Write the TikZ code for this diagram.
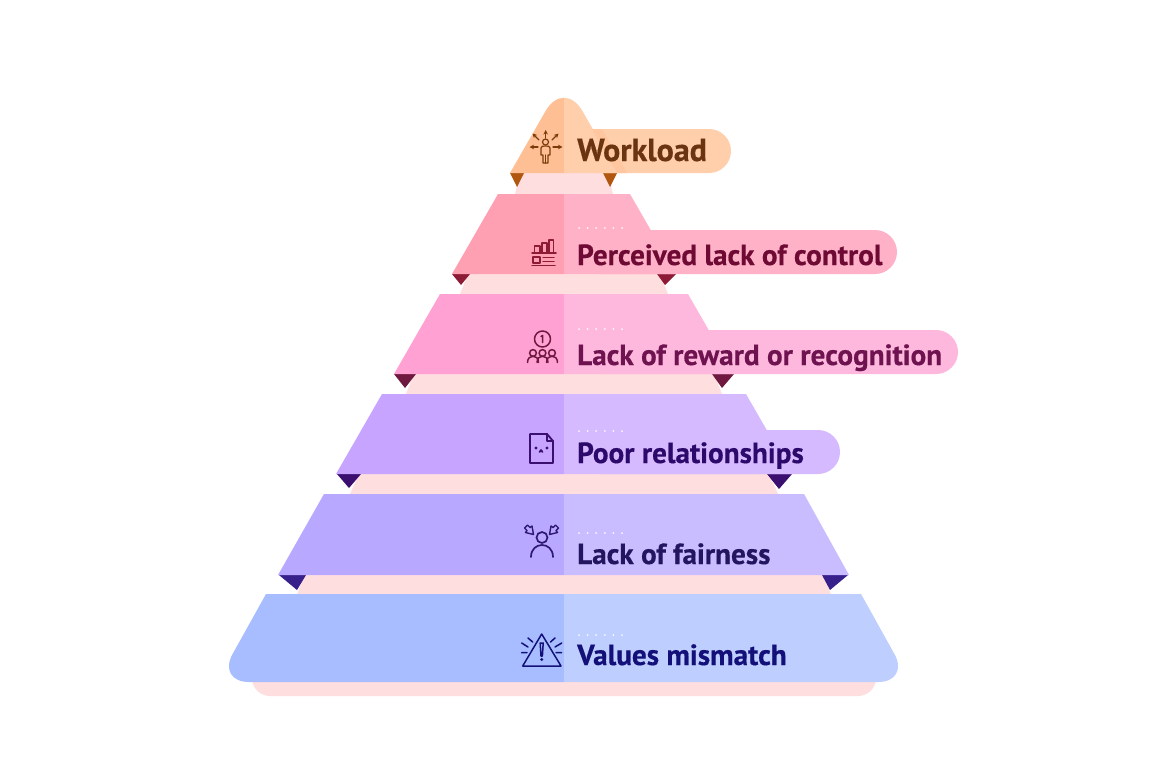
\documentclass[tikz,border=0pt]{standalone}
\usepackage{fontspec}
\usetikzlibrary{arrows.meta}
\setmainfont[BoldFeatures={FakeBold=0.4}]{PT Sans}
\definecolor{strip}{HTML}{FFDEDF}
\definecolor{foldA}{HTML}{B0560F}\definecolor{foldB}{HTML}{8E1B36}\definecolor{foldC}{HTML}{6F1840}
\definecolor{foldD}{HTML}{3A0F6F}\definecolor{foldE}{HTML}{38208C}
\definecolor{lA}{HTML}{FFBF95}\definecolor{rA}{HTML}{FFCEAB}
\definecolor{lB}{HTML}{FFA0B2}\definecolor{rB}{HTML}{FFB1C7}
\definecolor{lC}{HTML}{FFA1D2}\definecolor{rC}{HTML}{FFB8DD}
\definecolor{lD}{HTML}{C7A4FF}\definecolor{rD}{HTML}{D5BAFF}
\definecolor{lE}{HTML}{B8A8FF}\definecolor{rE}{HTML}{C9BDFF}
\definecolor{lF}{HTML}{A8BDFF}\definecolor{rF}{HTML}{BDCEFF}
\definecolor{tA}{HTML}{6B3410}\definecolor{tB}{HTML}{6E0A33}\definecolor{tC}{HTML}{6E1350}
\definecolor{tD}{HTML}{2C0A6B}\definecolor{tE}{HTML}{231560}\definecolor{tF}{HTML}{14107A}
\tikzset{
  label text/.style={anchor=base west,inner sep=0pt,font=\fontsize{29.2}{32}\selectfont\bfseries},
  icon/.style={line width=1.5pt,line cap=round,line join=round,fill=none},
}
% six small dots above a label
\newcommand{\dotrow}[1]{\foreach \i in {0,...,5}{\fill[white,opacity=.9] ({579+8.6*\i},#1) circle (1);}}
\begin{document}
\begin{tikzpicture}[x=1pt,y=-1pt]
\useasboundingbox (0,0) rectangle (1170,780);
\fill[white] (0,0) rectangle (1170,780);

% shaded bands between tiers
\fill[strip] (520,173) -- (608,173) -- (613,194) -- (515,194) -- cycle;
\fill[strip] (468,274) -- (660,274) -- (668,294) -- (460,294) -- cycle;
\fill[strip] (414,374) -- (714,374) -- (722,394) -- (406,394) -- cycle;
\fill[strip] (359,474) -- (769,474) -- (778,494) -- (350,494) -- cycle;
\fill[strip] (304,575) -- (824,575) -- (831,595) -- (297,595) -- cycle;
\fill[strip,rounded corners=18] (252,660) -- (252,696) -- (876,696) -- (876,660) -- cycle;

% folded corners
\fill[foldA] (510,173) -- (524,173) -- (517,187) -- cycle;
\fill[foldA] (603,173) -- (617,173) -- (610,187) -- cycle;
\fill[foldB] (452,274) -- (470,274) -- (461,285) -- cycle;
\fill[foldB] (657,274) -- (676,274) -- (665,285) -- cycle;
\fill[foldC] (394,374) -- (416,374) -- (405,388) -- cycle;
\fill[foldC] (712,374) -- (734,374) -- (722,388) -- cycle;
\fill[foldD] (337,474) -- (361,474) -- (349,488) -- cycle;
\fill[foldD] (767,474) -- (792,474) -- (779,489) -- cycle;
\fill[foldE] (279,575) -- (306,575) -- (297,590) -- cycle;
\fill[foldE] (822,575) -- (848,575) -- (830,590) -- cycle;

% tier 1
\fill[rA] (600,129) -- (709,129) arc[start angle=-90,end angle=90,radius=22] -- (600,173) -- cycle;
\begin{scope}
  \clip (0,0) rectangle (564,780);
  \fill[lA] (510,173) [rounded corners=37] -- (564,79) [sharp corners] -- (618,173) -- cycle;
\end{scope}
\begin{scope}
  \clip (564,0) rectangle (1170,780);
  \fill[rA] (510,173) [rounded corners=37] -- (564,79) [sharp corners] -- (618,173) -- cycle;
\end{scope}
\fill[lA!55!rA] (592,129) -- (602,129) -- (627,173) -- (617,173) -- cycle;

% tier 2
\fill[lB] (564,194) -- (498,194) -- (452,274) -- (564,274) -- cycle;
\fill[rB] (564,194) -- (630,194) -- (676,274) -- (564,274) -- cycle;
\fill[rB] (600,230) -- (875,230) arc[start angle=-90,end angle=90,radius=22] -- (600,274) -- cycle;

% tier 3
\fill[lC] (564,294) -- (440,294) -- (394,374) -- (564,374) -- cycle;
\fill[rC] (564,294) -- (688,294) -- (734,374) -- (564,374) -- cycle;
\fill[rC] (600,330) -- (936,330) arc[start angle=-90,end angle=90,radius=22] -- (600,374) -- cycle;

% tier 4
\fill[lD] (564,394) -- (382,394) -- (336,474) -- (564,474) -- cycle;
\fill[rD] (564,394) -- (746,394) -- (792,474) -- (564,474) -- cycle;
\fill[rD] (600,430) -- (818,430) arc[start angle=-90,end angle=90,radius=22] -- (600,474) -- cycle;

% tier 5
\fill[lE] (564,494) -- (324,494) -- (278,575) -- (564,575) -- cycle;
\fill[rE] (564,494) -- (804,494) -- (849,575) -- (564,575) -- cycle;

% tier 6
\begin{scope}
  \clip (0,0) rectangle (564,780);
  \fill[lF] (600,594) -- (266,594) [rounded corners=32] -- (217,682) [sharp corners] -- (600,682) -- cycle;
\end{scope}
\begin{scope}
  \clip (564,0) rectangle (1170,780);
  \fill[rF] (500,594) -- (861,594) [rounded corners=32] -- (910,682) [sharp corners] -- (500,682) -- cycle;
\end{scope}

% dotted rules over the labels
\dotrow{228}\dotrow{329}\dotrow{431}\dotrow{533}\dotrow{635}

% labels
\node[label text,text=tA,font=\fontsize{32}{34}\selectfont\bfseries] (workload) at (577,161) {Workload};
\node[label text,text=tB] (control) at (577,265) {Perceived lack of control};
\node[label text,text=tC] (reward) at (577,365) {Lack of reward or recognition};
\node[label text,text=tD] (relations) at (577,463) {Poor relationships};
\node[label text,text=tE] (fairness) at (577,564) {Lack of fairness};
\node[label text,text=tF] (values) at (577,665) {Values mismatch};

% icon: person with arrows
\begin{scope}[icon,draw=foldA!70!black,line width=1.2pt,>={Stealth[length=4.5pt,width=4.5pt]}]
  \draw (545.5,142) circle (3);
  \draw (543,163) -- (543,155) -- (541,155) -- (541,148) .. controls (541,146) and (543,146) .. (545.5,146) .. controls (548,146) and (550,146) .. (550,148) -- (550,155) -- (548,155) -- (548,163) -- cycle;
  \draw (545.5,155) -- (545.5,163);
  \draw[->] (545.7,138) -- (545.7,130);
  \draw[->] (539,140) -- (532.5,133.5);
  \draw[->] (552,140) -- (558.5,133.5);
  \draw[->] (538,147) -- (529.5,147);
  \draw[->] (553,147) -- (562.5,147);
\end{scope}

% icon: bars and list
\begin{scope}[icon,draw=foldB]
  \draw (532,253) -- (556,253);
  \draw (534.5,253) -- (534.5,246) -- (540,246) -- (540,253);
  \draw (542,253) -- (542,243) -- (547,243) -- (547,253);
  \draw (549,253) -- (549,240) -- (553.5,240) -- (553.5,253);
  \draw (533,257) rectangle (540,263);
  \draw (543,257.5) -- (554,257.5) (543,261.5) -- (554,261.5) (532,265.5) -- (555,265.5);
\end{scope}

% icon: three people under a badge
\begin{scope}[icon,draw=foldC]
  \draw (542.5,339) circle (8);
  \draw (541,336.5) -- (542.7,335.5) -- (542.7,342.5);
  \foreach \x in {533,542.5,552}{
    \draw (\x,353) circle (3.4);
    \draw (\x-5.5,362.5) .. controls (\x-5.5,354) and (\x+5.5,354) .. (\x+5.5,362.5);
  }
\end{scope}

% icon: sad document
\begin{scope}[icon,draw=foldD,line width=1.8pt]
  \draw (547,434) -- (530,434) -- (530,463) -- (553,463) -- (553,441) -- cycle;
  \draw[line width=1.4pt] (547,434) -- (547,441) -- (553,441);
  \fill[foldD] (536,448) circle (1.7) (547,448) circle (1.7);
  \draw (539.5,452) .. controls (540,449.5) and (542,449.5) .. (542.5,452);
\end{scope}

% icon: person with two arrows pointing in
\begin{scope}[icon,draw=foldE!80!black,line width=1.7pt]
  \draw (542,537.5) circle (5.5);
  \draw (531,557) .. controls (531,541) and (553,541) .. (553,557);
  \draw[line width=1.4pt] (533.5,534.5) -- (525.5,532.5) -- (527,530.5) -- (524.5,528) -- (527.5,525) -- (530,527.5) -- (532,526) -- cycle;
  \draw[line width=1.4pt] (549.5,534.5) -- (557.5,532.5) -- (556,530.5) -- (558.5,528) -- (555.5,525) -- (553,527.5) -- (551,526) -- cycle;
\end{scope}

% icon: warning triangle
\begin{scope}[icon,draw=tF]
  \draw (541.7,634) -- (561,666) -- (522.7,666) -- cycle;
  \draw (540.2,643) -- (543.2,643) -- (542.4,656) -- (541,656) -- cycle;
  \fill[tF] (541.7,659.5) circle (1.6);
  \draw (528,638) -- (532.7,642) (521.7,643) -- (528,647) (521.7,652.7) -- (527,652.7);
  \draw (555,638) -- (550.5,642) (561.7,643) -- (555,647) (561.7,652.7) -- (556,652.7);
\end{scope}
\end{tikzpicture}
\end{document}
